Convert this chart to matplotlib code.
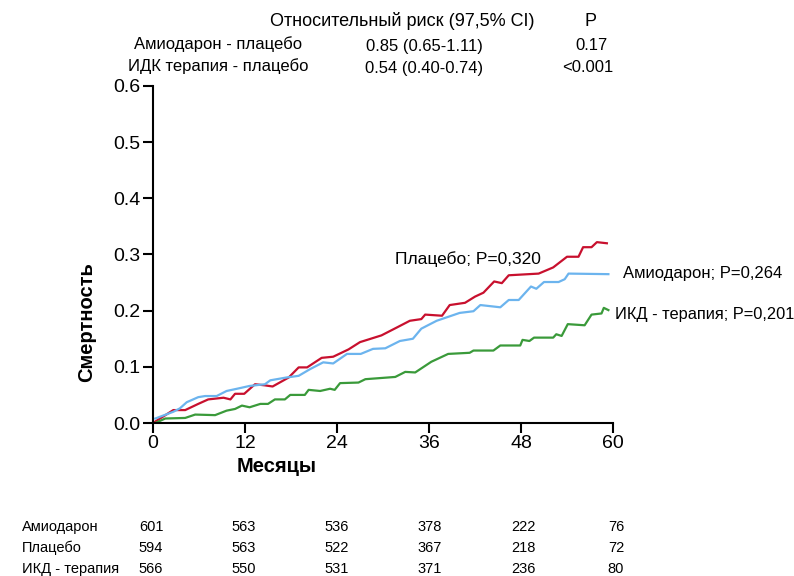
import matplotlib.pyplot as plt

plt.rcParams['font.family'] = ['Liberation Sans', 'DejaVu Sans']

# Kaplan-Meier style curves (months, mortality)
placebo_m = [0, 2.65, 4.2, 5.9, 7.2, 9.2, 10.1, 10.7, 11.9, 13.3, 14.6, 15.6, 17.7, 19.0, 20.1,
             22.0, 23.5, 25.5, 27.0, 29.8, 31.8, 33.5, 35.0, 35.5, 37.7, 38.7, 40.7, 42.0, 43.1,
             44.5, 45.5, 46.4, 50.3, 52.2, 54.0, 55.5, 56.1, 57.2, 57.9, 59.2]
placebo_v = [0, 0.023, 0.023, 0.034, 0.042, 0.045, 0.042, 0.052, 0.052, 0.069, 0.067, 0.065,
             0.081, 0.099, 0.099, 0.116, 0.118, 0.131, 0.144, 0.156, 0.170, 0.182, 0.185, 0.193,
             0.191, 0.210, 0.214, 0.225, 0.232, 0.252, 0.249, 0.263, 0.266, 0.277, 0.296, 0.296,
             0.313, 0.313, 0.322, 0.320]

amio_m = [0.3, 2.65, 3.5, 4.4, 5.9, 6.8, 8.3, 9.6, 11.3, 12.6, 14.6, 15.3, 17.4, 19.0, 20.5,
          22.2, 23.5, 25.3, 27.1, 28.7, 30.3, 32.2, 33.9, 35.0, 37.0, 40.0, 41.8, 42.7, 45.3,
          46.4, 47.7, 49.3, 50.0, 51.0, 52.9, 53.7, 54.2, 59.4]
amio_v = [0.008, 0.020, 0.026, 0.037, 0.046, 0.048, 0.048, 0.057, 0.062, 0.066, 0.069, 0.076,
          0.081, 0.084, 0.096, 0.108, 0.106, 0.123, 0.123, 0.132, 0.133, 0.146, 0.150, 0.168,
          0.182, 0.196, 0.199, 0.210, 0.206, 0.219, 0.219, 0.243, 0.239, 0.251, 0.251, 0.256,
          0.266, 0.265]

icd_m = [0.3, 1.6, 4.2, 5.5, 8.1, 9.6, 10.7, 11.6, 12.6, 14.0, 15.0, 15.9, 17.2, 17.9, 19.8,
         20.3, 21.8, 23.1, 23.7, 24.4, 26.8, 27.7, 31.6, 32.9, 34.2, 36.3, 38.5, 41.3, 41.8,
         44.4, 45.3, 47.9, 48.2, 49.1, 49.7, 52.2, 52.6, 53.3, 54.1, 56.3, 57.2, 58.5, 58.8, 59.4]
icd_v = [0, 0.008, 0.009, 0.015, 0.014, 0.022, 0.025, 0.031, 0.028, 0.034, 0.034, 0.042, 0.042,
         0.050, 0.050, 0.059, 0.057, 0.061, 0.059, 0.071, 0.072, 0.078, 0.082, 0.091, 0.090,
         0.109, 0.123, 0.125, 0.129, 0.129, 0.138, 0.138, 0.148, 0.146, 0.152, 0.152, 0.158,
         0.155, 0.176, 0.174, 0.193, 0.195, 0.205, 0.201]

# numbers at risk
risk_months = [0, 12, 24, 36, 48, 60]
risk_labels = ['Амиодарон', 'Плацебо', 'ИКД - терапия']
risk_counts = [[601, 563, 536, 378, 222, 76],
               [594, 563, 522, 367, 218, 72],
               [566, 550, 531, 371, 236, 80]]

W, H = 794, 576
fig = plt.figure(figsize=(W / 100, H / 100), dpi=100)
ax = fig.add_axes([153 / W, 1 - 423 / H, 460 / W, 337 / H])

ax.plot(placebo_m, placebo_v, color='#c8102e', lw=1.6)
ax.plot(amio_m, amio_v, color='#6cb4ee', lw=1.6)
ax.plot(icd_m, icd_v, color='#3a9a3a', lw=1.6)

ax.set_xlim(0, 60)
ax.set_ylim(0, 0.6)
ax.set_xticks(risk_months)
ax.set_yticks([0, 0.1, 0.2, 0.3, 0.4, 0.5, 0.6])
ax.set_yticklabels(['0.0', '0.1', '0.2', '0.3', '0.4', '0.5', '0.6'])
ax.spines['top'].set_visible(False)
ax.spines['right'].set_visible(False)
ax.spines['left'].set_linewidth(1.5)
ax.spines['bottom'].set_linewidth(1.5)
ax.tick_params(direction='out', length=7, width=1.5, labelsize=14, pad=2)

ax.set_xlabel('Месяцы', fontsize=14.5, fontweight='bold', va='center')
ax.xaxis.set_label_coords((277 - 153) / 460, (423 - 467) / 337)
ax.set_ylabel('Смертность', fontsize=14.5, fontweight='bold', va='center')
ax.yaxis.set_label_coords((87 - 153) / 460, (423 - 322) / 337)

# curve annotations
ax.text(31.6, 0.292, 'Плацебо; P=0,320', fontsize=12.5, va='center', clip_on=False)
ax.text(61.3, 0.267, 'Амиодарон; P=0,264', fontsize=12, va='center', clip_on=False)
ax.text(60.2, 0.194, 'ИКД - терапия; P=0,201', fontsize=11.8, va='center', clip_on=False)

# header table
def ftext(x, y, s, size=12, **kw):
    fig.text(x / W, 1 - y / H, s, fontsize=size, va='center', **kw)

ftext(402, 21, 'Относительный риск (97,5% CI)', size=13, ha='center')
ftext(591, 21, 'P', size=13, ha='center')
ftext(218, 44, 'Амиодарон - плацебо', ha='center')
ftext(424, 46, '0.85 (0.65-1.11)', ha='center')
ftext(591, 46, '0.17', ha='center')
ftext(218, 66, 'ИДК терапия - плацебо', ha='center')
ftext(424, 68, '0.54 (0.40-0.74)', ha='center')
ftext(588, 67, '<0.001', ha='center')

# numbers at risk table
row_y = [527, 548, 569]
for label, counts, y in zip(risk_labels, risk_counts, row_y):
    fig.text(22 / W, 1 - y / H, label, fontsize=10.5, va='center',
             family=['Liberation Sans Narrow', 'Liberation Sans'])
    for m, c in zip(risk_months, counts):
        xp = 151 + m * 465 / 60
        fig.text(xp / W, 1 - y / H, str(c), fontsize=10.5, va='center', ha='center',
                 family=['Liberation Sans Narrow', 'Liberation Sans'])

fig.savefig('out.png', dpi=100)
